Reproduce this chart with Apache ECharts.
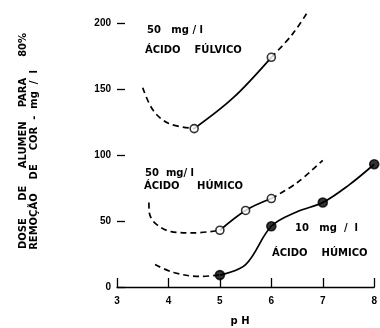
<!DOCTYPE html>
<html>
<head>
<meta charset="utf-8">
<script src="https://cdn.jsdelivr.net/npm/echarts@6/dist/echarts.min.js"></script>
<style>
  html, body { margin: 0; padding: 0; background: #fff; }
  #chart { width: 380px; height: 328px; }
</style>
</head>
<body>
<div id="chart"></div>
<script>
// eixos
const phTicks = [3, 4, 5, 6, 7, 8];
const doseTicks = [0, 50, 100, 150, 200];

// 50 mg/l acido fulvico (circulos abertos)
const fulvicPoints = [[4.5, 120], [6.0, 174]];
const fulvicSolid = [[4.5, 120], [5.25, 143], [6.0, 174]];
const fulvicDashLow = [[3.5, 151], [3.7, 134], [4.0, 124], [4.5, 120]];
const fulvicDashHigh = [[6.0, 174], [6.4, 191], [6.7, 208]];

// 50 mg/l acido humico (circulos abertos)
const humic50Points = [[5.0, 43], [5.5, 58], [6.0, 67]];
const humic50Solid = [[5.0, 43], [5.5, 58], [6.0, 67]];
const humic50DashLow = [[3.62, 64], [3.63, 56], [3.75, 48], [4.05, 42], [4.5, 41], [5.0, 43]];
const humic50DashHigh = [[6.0, 67], [6.5, 79], [7.0, 96]];

// 10 mg/l acido humico (circulos cheios)
const humic10Points = [[5.0, 9], [6.0, 46], [7.0, 64], [8.0, 93]];
const humic10Solid = [[5.0, 9], [5.5, 17], [6.0, 46], [6.5, 57], [7.0, 64], [7.5, 77], [8.0, 93]];
const humic10DashLow = [[3.74, 17], [4.1, 11], [4.6, 8], [5.0, 9]];

const ink = '#000';
const fontTxt = 'bold 10px "DejaVu Sans"';
const fontTitle = 'bold 10px "DejaVu Sans"';

function curve(data, dashed) {
  return {
    type: 'line',
    data,
    smooth: 0.35,
    showSymbol: false,
    clip: false,
    silent: true,
    lineStyle: { color: ink, width: 1.7, type: dashed ? [6, 4] : 'solid' }
  };
}

function dots(data, filled) {
  return {
    type: 'scatter',
    data,
    symbol: 'circle',
    symbolSize: filled ? 9 : 8,
    z: 5,
    itemStyle: { color: filled ? ink : '#fff', borderColor: ink, borderWidth: 1.6 }
  };
}

function label(text, x, y, align) {
  return {
    type: 'text', x, y,
    style: { text, font: fontTxt, fill: ink, align: align || 'left', verticalAlign: 'middle' }
  };
}

const chart = echarts.init(document.getElementById('chart'));
chart.setOption({
  animation: false,
  backgroundColor: '#fff',
  grid: { left: 117, right: 3, top: 23, bottom: 41 },
  xAxis: {
    type: 'value', min: phTicks[0], max: phTicks[phTicks.length - 1], interval: 1,
    splitLine: { show: false },
    axisLine: { lineStyle: { color: ink, width: 1.3 } },
    axisTick: { inside: true, length: 9, lineStyle: { color: ink, width: 1.3 } },
    axisLabel: { color: ink, margin: 9, fontSize: 10, fontWeight: 'bold', fontFamily: 'Liberation Sans' }
  },
  yAxis: {
    type: 'value', min: doseTicks[0], max: doseTicks[doseTicks.length - 1], interval: 50,
    splitLine: { show: false },
    axisLine: { show: false },
    axisTick: { show: true, inside: true, length: 8, lineStyle: { color: ink, width: 1.3 } },
    axisLabel: { color: ink, margin: 6, fontSize: 10, fontWeight: 'bold', fontFamily: 'Liberation Sans' }
  },
  series: [
    curve(fulvicDashLow, true), curve(fulvicSolid, false), curve(fulvicDashHigh, true),
    curve(humic50DashLow, true), curve(humic50Solid, false), curve(humic50DashHigh, true),
    curve(humic10DashLow, true), curve(humic10Solid, false),
    dots(fulvicPoints, false), dots(humic50Points, false), dots(humic10Points, true)
  ],
  graphic: [
    label('50   mg / l', 147, 30),
    label('ÁCIDO    FÚLVICO', 145, 50),
    label('50  mg/ l', 145, 173),
    label('ÁCIDO     HÚMICO', 144, 186),
    label('10   mg  /  l', 295, 228),
    label('ÁCIDO    HÚMICO', 272, 253),
    label('p H', 240, 321, 'center'),
    {
      type: 'text', x: 23, y: 141, rotation: Math.PI / 2,
      style: { text: 'DOSE     DE     ALUMEN    PARA      80%', font: fontTitle, fill: ink, align: 'center', verticalAlign: 'middle' }
    },
    {
      type: 'text', x: 34, y: 160, rotation: Math.PI / 2,
      style: { text: 'REMOÇÃO    DE    COR  -  mg  /  l', font: fontTitle, fill: ink, align: 'center', verticalAlign: 'middle' }
    }
  ]
});
</script>
</body>
</html>
